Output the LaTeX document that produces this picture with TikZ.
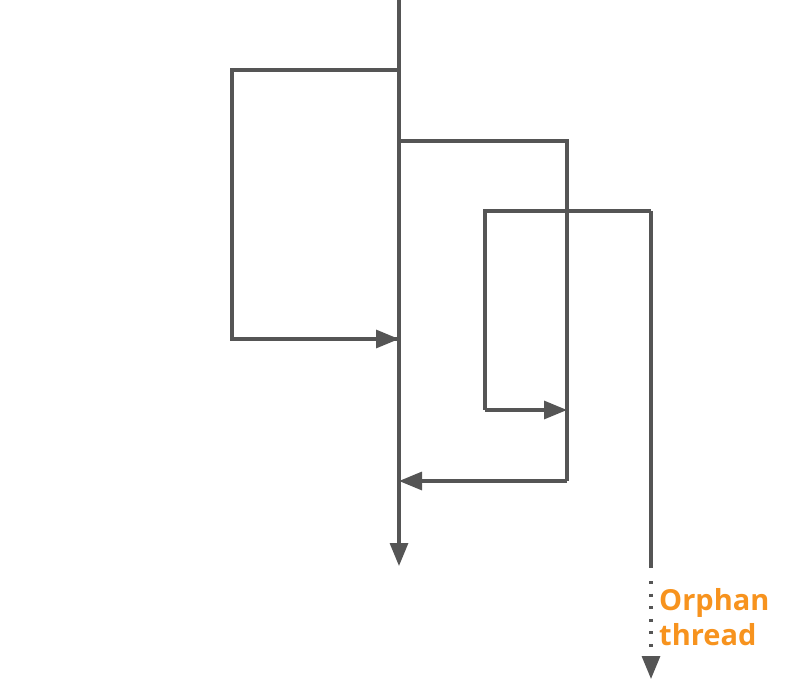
\documentclass[tikz,border=0pt]{standalone}
\usepackage{fontspec}
\setmainfont{Open Sans}
\usetikzlibrary{arrows.meta}
\definecolor{ln}{HTML}{555555}
\definecolor{orph}{HTML}{F7931E}
\tikzset{
  flow/.style={draw=ln, line width=3.2pt},
  tip/.style={-{Triangle[length=23pt,width=18pt]}},
  lbl/.style={text=orph, font=\fontsize{29}{35}\selectfont\bfseries, align=left, inner sep=0pt}
}
\begin{document}
\begin{tikzpicture}[x=1pt,y=-1pt]
\useasboundingbox (0,0) rectangle (800,682);
% main thread
\coordinate (top) at (399,0);
\coordinate (end) at (399,566);
\coordinate (s1) at (399,70);
\coordinate (j1) at (399,339);
\coordinate (s2) at (399,141);
\coordinate (j2) at (399,481);
% branch 1
\coordinate (b1a) at (232,70);
\coordinate (b1b) at (232,339);
% branch 2
\coordinate (b2a) at (567,141);
\coordinate (b2b) at (567,481);
\coordinate (j3) at (567,410);
% branch 3
\coordinate (s3) at (651,211);
\coordinate (b3a) at (485,211);
\coordinate (b3b) at (485,410);
% orphan
\coordinate (o1) at (651,568);
\coordinate (o2) at (651,679);
\coordinate (o3) at (651,656);

\draw[flow] (s1) -- (b1a) -- (b1b) -- (j1);
\draw[flow,tip] (b1b) -- (j1);
\draw[flow] (s2) -- (b2a) -- (b2b);
\draw[flow,tip] (b2b) -- (j2);
\draw[flow] (s3) -- (b3a) -- (b3b);
\draw[flow,tip] (b3b) -- (j3);
\draw[flow] (s3) -- (o1);
\draw[flow,dash pattern=on 3pt off 9.6pt] ([yshift=-13pt]o1) -- (o3);
\draw[flow,tip] (o3) -- (o2);
\draw[flow,tip] (top) -- (end);

\node[lbl, anchor=base west] (orphan) at (659,645) {Orphan\\thread};
\end{tikzpicture}
\end{document}
